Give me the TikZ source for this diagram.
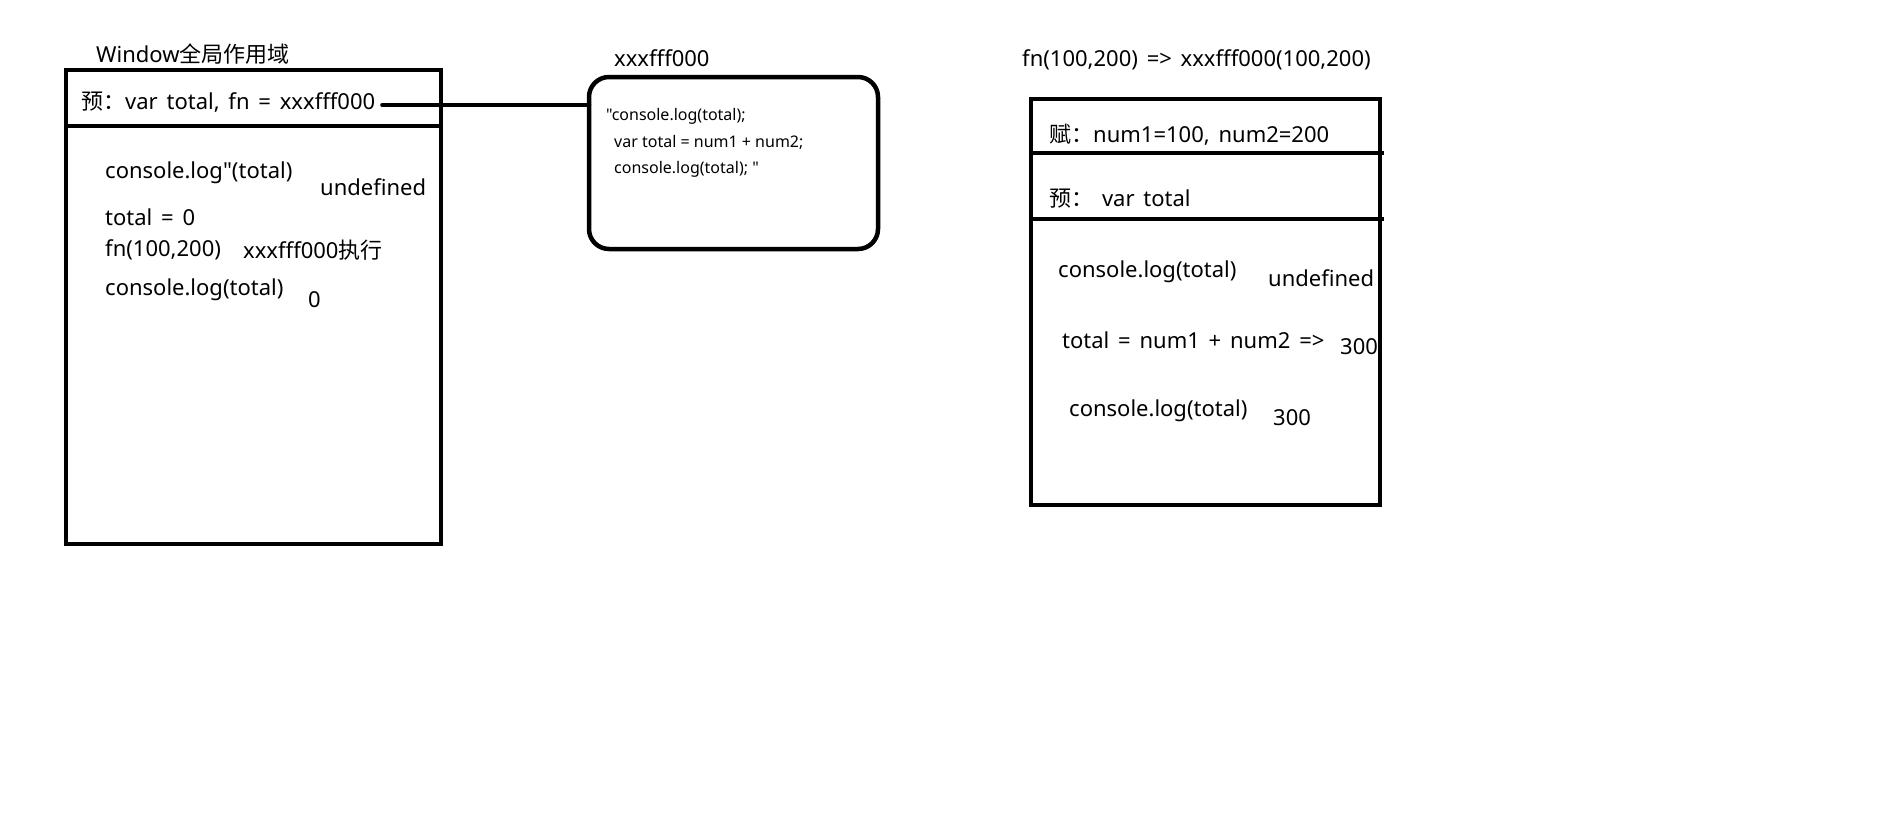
\documentclass[tikz,border=0pt]{standalone}
\usepackage{fontspec}
\setmainfont{Noto Sans}[Ligatures=TeXOff]
\newfontfamily\cjk{Noto Sans CJK SC}[Ligatures=TeXOff]
\usetikzlibrary{positioning}
\newcommand{\lblfont}{\fontsize{22}{26}\selectfont\spaceskip=0.4em\relax}
\tikzset{
  frame/.style={draw, line width=4.5pt, inner sep=0pt, outer sep=0pt, anchor=north west},
  divider/.style={line width=4.5pt},
  conn/.style={line width=4.5pt, line cap=round},
  lbl/.style={anchor=west, inner sep=0pt, font=\lblfont},
  code/.style={anchor=west, inner sep=0pt, font=\fontsize{16}{19}\selectfont},
}
\begin{document}
\begin{tikzpicture}[x=1pt,y=-1pt]
    \useasboundingbox (0,0) rectangle (1888,835);

    % 全局作用域
    \node[lbl] (wintitle) at (96,54) {Window{\cjk 全局作用域}};
    \node[frame, minimum width=375pt, minimum height=474pt] (win) at (66,70) {};
    \draw[divider] (win.west |- 0,126) -- (win.east |- 0,126);
    \node[lbl] (pre) at (81,102) {{\cjk 预：}var total, fn = xxxfff000};
    \node[lbl] (log1) at (105,173) {console.log"(total)};
    \node[lbl] (undef1) at (320,187) {undefined};
    \node[lbl] (assign) at (105,217) {total = 0};
    \node[lbl] (call) at (105,250) {fn(100,200)};
    \node[lbl] (exec) at (243,250) {xxxfff000{\cjk 执行}};
    \node[lbl] (log2) at (105,290) {console.log(total)};
    \node[lbl] (zero) at (308,300) {0};

    % 函数堆内存
    \node[lbl] (addr) at (614,58) {xxxfff000};
    \node[frame, rounded corners=20pt, minimum width=289pt, minimum height=172pt] (func) at (589,77) {};
    \node[code] (code1) at (606,116) {"console.log(total);};
    \node[code] (code2) at (614,142) {var total = num1 + num2;};
    \node[code] (code3) at (614,169) {console.log(total); "};
    \draw[conn] ([xshift=7pt,yshift=-3pt]pre.east) -- ([yshift=-3pt]pre.east -| func.west);

    % 函数执行作用域
    \node[lbl] (calltitle) at (1022,60) {fn(100,200) => xxxfff000(100,200)};
    \node[frame, minimum width=349pt, minimum height=406pt] (run) at (1031,99) {};
    \draw[divider] (run.west |- 0,153) -- ([xshift=4pt]run.east |- 0,153);
    \draw[divider] (run.west |- 0,219) -- ([xshift=4pt]run.east |- 0,219);
    \node[lbl] (args) at (1049,135) {{\cjk 赋：}num1=100, num2=200};
    \node[lbl] (pre2) at (1049,199) {{\cjk 预：}\ var total};
    \node[lbl] (log3) at (1058,272) {console.log(total)};
    \node[lbl] (undef2) at (1268,278) {undefined};
    \node[lbl] (sum) at (1062,340) {total = num1 + num2 =>};
    \node[lbl] (res1) at (1340,347) {300};
    \node[lbl] (log4) at (1069,411) {console.log(total)};
    \node[lbl] (res2) at (1273,418) {300};
\end{tikzpicture}
\end{document}
